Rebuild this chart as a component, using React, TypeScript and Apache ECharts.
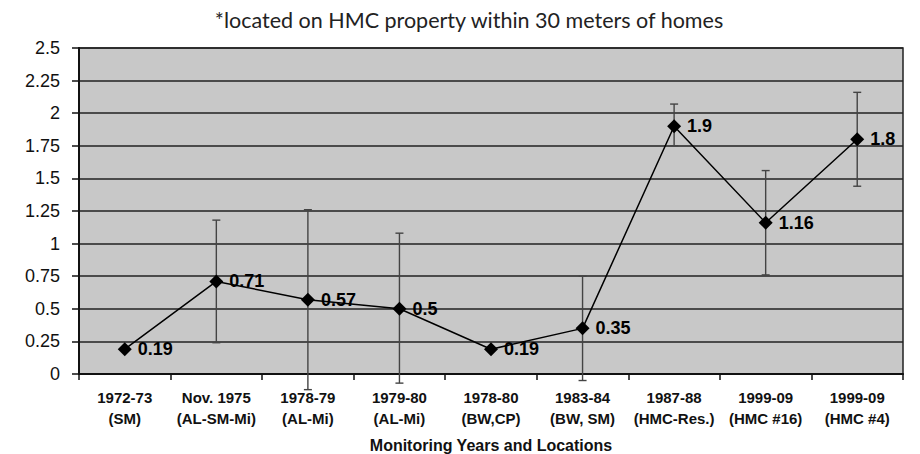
import React, { useEffect, useRef } from "react";
import * as echarts from "echarts";

const categories = [
  "1972-73\n(SM)",
  "Nov. 1975\n(AL-SM-Mi)",
  "1978-79\n(AL-Mi)",
  "1979-80\n(AL-Mi)",
  "1978-80\n(BW,CP)",
  "1983-84\n(BW, SM)",
  "1987-88\n(HMC-Res.)",
  "1999-09\n(HMC #16)",
  "1999-09\n(HMC #4)",
];
const values = [0.19, 0.71, 0.57, 0.5, 0.19, 0.35, 1.9, 1.16, 1.8];
const errLow: (number | null)[] = [null, 0.24, -0.12, -0.07, null, -0.05, 1.75, 0.76, 1.44];
const errHigh: (number | null)[] = [null, 1.18, 1.26, 1.08, null, 0.75, 2.07, 1.56, 2.16];
const titleText = "*located on HMC property within 30 meters of homes";
const xAxisTitle = "Monitoring Years and Locations";

export default function App() {
  const ref = useRef<HTMLDivElement>(null);
  useEffect(() => {
    if (!ref.current) return;
    const chart = echarts.init(ref.current, null, { renderer: "svg" });
    const errData = categories
      .map((_, i) => [i, errLow[i], errHigh[i]])
      .filter((d) => d[1] !== null);
    chart.setOption({
      animation: false,
      backgroundColor: "#ffffff",
      title: {
        text: titleText,
        left: 464,
        textAlign: "center",
        top: 4,
        textStyle: {
          fontFamily: "Lato",
          fontSize: 21.5,
          fontWeight: "normal",
          color: "#222",
        },
      },
      grid: {
        left: 79,
        right: 17,
        top: 48,
        bottom: 80,
        outerBoundsMode: "none",
        containLabel: false,
        show: true,
        backgroundColor: "#c8c8c8",
        borderColor: "#222",
        borderWidth: 1.5,
      },
      xAxis: {
        type: "category",
        data: categories,
        name: xAxisTitle,
        nameLocation: "middle",
        nameGap: 63,
        nameTextStyle: {
          fontFamily: "Liberation Sans",
          fontWeight: "bold",
          fontSize: 16,
          color: "#111",
        },
        axisLine: { lineStyle: { color: "#111", width: 2 } },
        axisTick: { show: true, length: 6, alignWithLabel: false, lineStyle: { color: "#111", width: 1.5 } },
        axisLabel: {
          interval: 0,
          margin: 13,
          fontFamily: "Liberation Sans",
          fontWeight: "bold",
          fontSize: 15,
          lineHeight: 21,
          color: "#111",
        },
        splitLine: { show: false },
      },
      yAxis: {
        type: "value",
        min: 0,
        max: 2.5,
        interval: 0.25,
        axisLine: { show: true, lineStyle: { color: "#111", width: 2 } },
        axisTick: { show: true, length: 7, lineStyle: { color: "#111", width: 1.5 } },
        axisLabel: {
          margin: 19,
          fontFamily: "Liberation Sans",
          fontSize: 18,
          color: "#111",
        },
        splitLine: { show: true, lineStyle: { color: "#222", width: 1.5 } },
      },
      series: [
        {
          type: "custom",
          name: "err",
          z: 2,
          data: errData,
          renderItem: (params: any, api: any) => {
            const x = api.value(0);
            const lo = api.coord([x, api.value(1)]);
            const hi = api.coord([x, api.value(2)]);
            const cap = 4;
            const style = { stroke: "#444", lineWidth: 1.4, fill: "none" };
            return {
              type: "group",
              children: [
                { type: "line", shape: { x1: hi[0], y1: hi[1], x2: lo[0], y2: lo[1] }, style },
                { type: "line", shape: { x1: hi[0] - cap, y1: hi[1], x2: hi[0] + cap, y2: hi[1] }, style },
                { type: "line", shape: { x1: lo[0] - cap, y1: lo[1], x2: lo[0] + cap, y2: lo[1] }, style },
              ],
            };
          },
        },
        {
          type: "line",
          name: "value",
          z: 3,
          data: values,
          symbol: "diamond",
          symbolSize: 14,
          itemStyle: { color: "#000" },
          lineStyle: { color: "#000", width: 1.5 },
          label: {
            show: true,
            position: "right",
            distance: 6,
            fontFamily: "Liberation Sans",
            fontWeight: "bold",
            fontSize: 18,
            color: "#000",
          },
        },
      ],
    });
    return () => chart.dispose();
  }, []);
  return <div ref={ref} style={{ width: 920, height: 454, position: "absolute", left: 0, top: 0 }} />;
}
